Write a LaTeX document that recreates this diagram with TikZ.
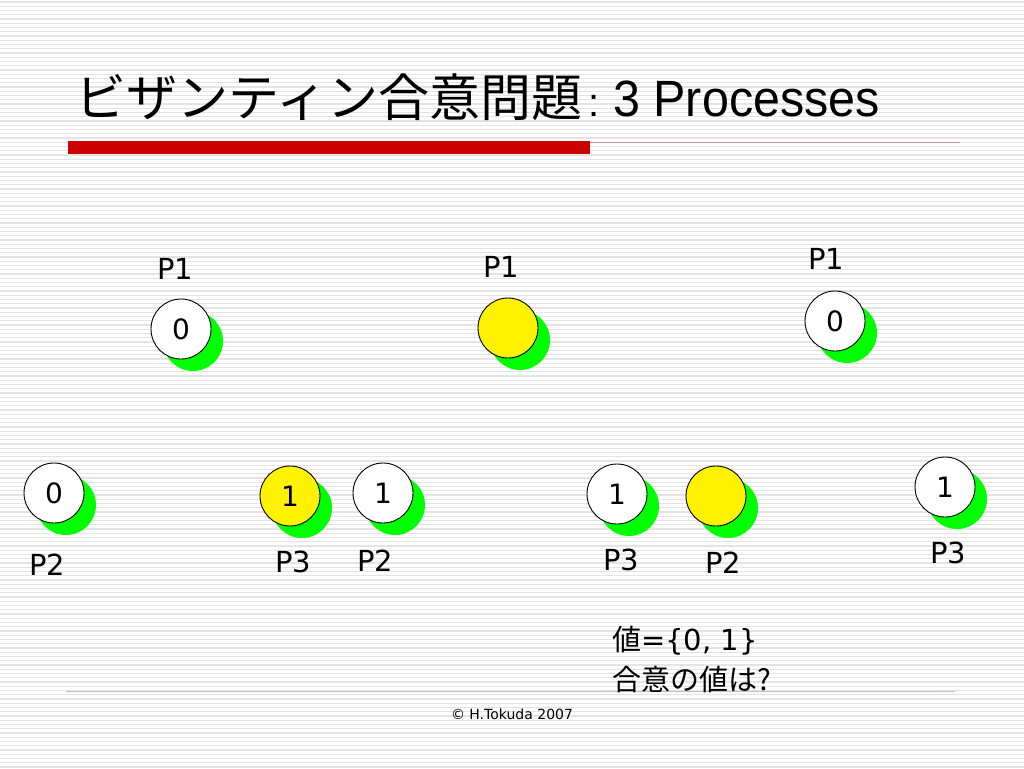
\documentclass[tikz,border=0pt]{standalone}
\usepackage{fontspec}
\setmainfont{DejaVu Sans}
\newfontfamily\jpfont{Noto Sans CJK JP}
\newfontfamily\lsans{Liberation Sans}
\usepackage{tikz}
\usetikzlibrary{positioning,calc}

\definecolor{stripegray}{RGB}{228,228,228}
\definecolor{barred}{RGB}{204,0,0}
\definecolor{rulepink}{RGB}{200,150,150}
\definecolor{shadegreen}{RGB}{0,255,0}

\begin{document}
\begin{tikzpicture}[
    x=1pt, y=-1pt,
    stripe/.style={draw=stripegray, line width=1.4pt},
    proc/.style={circle, draw, line width=0.9pt, minimum size=60pt, inner sep=0pt, font=\fontsize{28}{30}\selectfont},
    plabel/.style={anchor=base, font=\fontsize{29}{32}\selectfont}
]
    \useasboundingbox (0,0) rectangle (1024,768);
    \fill[white] (0,0) rectangle (1024,768);

    % striped background
    \foreach \i in {0,...,180} {
        \draw[stripe] (0,\i*4.25+2) -- (1024,\i*4.25+2);
    }

    % title and rules
    \node[anchor=base west, inner sep=0pt] (title) at (75,116)
        {\jpfont\fontsize{51}{54}\selectfont ビザンティン合意問題\hspace{6pt}{\lsans\fontsize{40}{44}\selectfont :}\hspace{14pt}\scalebox{0.95}[1]{\lsans 3 Processes}};
    \fill[barred] (68,141) rectangle (590,154);
    \coordinate (rs) at (590,142);
    \coordinate (re) at (960,142);
    \draw[rulepink, line width=1pt] (rs) -- (re);
    \coordinate (bs) at (66,691);
    \coordinate (be) at (955,691);
    \draw[rulepink!70, line width=1pt] (bs) -- (be);

    % processes
    \foreach \n/\x/\y/\v/\c in {p1a/181/329/0/white, p2a/54/493/0/white, p3a/290/496/1/yellow,
                               p1b/508/328//yellow, p2b/383/493/1/white, p3b/617/494/1/white,
                               p1c/835/321/0/white, p2c/716/496//yellow, p3c/945/487/1/white} {
        \fill[shadegreen] (\x+12,\y+12) circle[radius=30pt];
        \node[proc, fill=\c] (\n) at (\x,\y) {\v};
    }

    % labels
    \node[plabel] (l1a) at (175,279) {P1};
    \node[plabel] (l2a) at (47,575) {P2};
    \node[plabel] (l3a) at (293,572) {P3};
    \node[plabel] (l1b) at (501,277) {P1};
    \node[plabel] (l2b) at (375,571) {P2};
    \node[plabel] (l3b) at (621,570) {P3};
    \node[plabel] (l1c) at (826,269) {P1};
    \node[plabel] (l2c) at (723,573) {P2};
    \node[plabel] (l3c) at (948,563) {P3};

    % question
    \node[anchor=base west, inner sep=0pt, font=\fontsize{29}{32}\selectfont] (vals) at (612,650)
        {{\jpfont 値}=\{0, 1\}};
    \node[anchor=base west, inner sep=0pt] (ask) at (612,690)
        {\jpfont\fontsize{29}{32}\selectfont 合意の値は?};

    \node[anchor=base, font=\fontsize{14}{16}\selectfont] (copy) at (512,719) {© H.Tokuda 2007};
\end{tikzpicture}
\end{document}
